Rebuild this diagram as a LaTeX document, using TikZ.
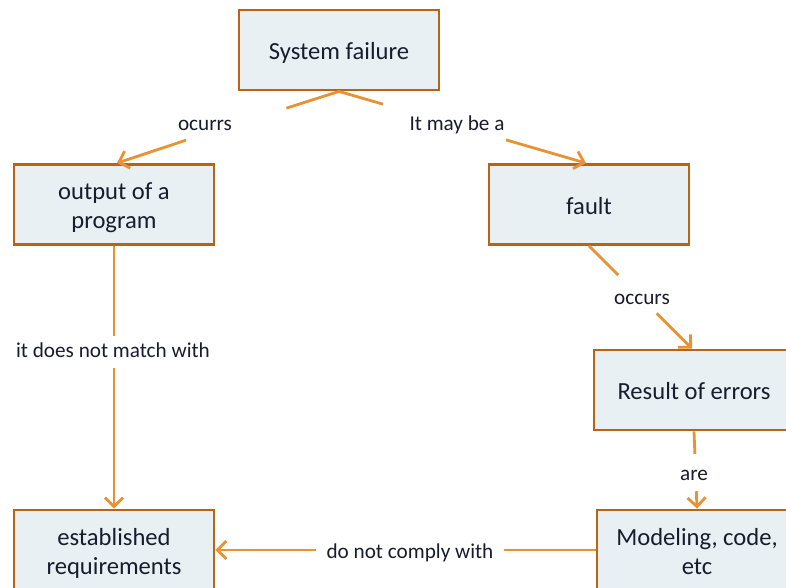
\documentclass[tikz,border=0pt]{standalone}
\usepackage{fontspec}
\setmainfont{Carlito}
\usetikzlibrary{arrows.meta,calc}
\definecolor{boxedge}{RGB}{184,100,18}
\definecolor{boxfill}{RGB}{232,240,243}
\definecolor{linkcol}{RGB}{232,146,52}
\definecolor{inkcol}{RGB}{25,28,45}
% fixed struts so every box sets its lines at the same height
\newcommand\hiline{\rule{0pt}{26pt}}
\newcommand\loline{\rule[-7pt]{0pt}{7pt}}
\tikzset{
  concept/.style={draw=boxedge, fill=boxfill, line width=2.8pt,
    minimum width=200pt, minimum height=80pt, inner sep=0pt,
    align=center, text=inkcol, font=\fontsize{24.6}{29}\selectfont},
  linkword/.style={text=inkcol, inner sep=2pt, fill=white,
    font=\fontsize{21.2}{25}\selectfont,
    execute at begin node={\rule[-4.5pt]{0pt}{20.5pt}}},
  link/.style={draw=linkcol, line width=2.8pt},
  tipped/.style={-{Straight Barb[length=9pt,width=18pt]}}
}
\begin{document}
\begin{tikzpicture}[x=1pt,y=-1pt]
  \useasboundingbox (0,0) rectangle (786,587);
  \clip (0,0) rectangle (786,587);

  % concepts
  \node[concept] (sf)    at (339,50)    {\hiline System failure\loline};
  \node[concept] (out)   at (114,204.5) {\hiline output of a\\program\loline};
  \node[concept] (fault) at (589,204.5) {\hiline fault\loline};
  \node[concept] (res)   at (694,390)   {\hiline Result of errors\loline};
  \node[concept] (mod)   at (697,550)   {\hiline Modeling, code,\\etc\loline};
  \node[concept] (est)   at (114,550)   {\hiline established\\requirements\loline};

  % system failure -> output of a program
  \draw[link] (sf.south) -- ($(sf.south)!0.234!(out.north)$);
  \draw[link,tipped] ($(sf.south)!0.68!(out.north)$) -- ([xshift=3pt]out.north);
  \node[linkword] (l1) at (205,125) {ocurrs};

  % system failure -> fault
  \draw[link] (sf.south) -- ($(sf.south)!0.178!([xshift=-3pt]fault.north)$);
  \draw[link,tipped] ($(sf.south)!0.676!([xshift=-3pt]fault.north)$) -- ([xshift=-3pt]fault.north);
  \node[linkword] (l2) at (457,124.5) {It may be a};

  % fault -> result of errors
  \draw[link] (fault.south) -- ($(fault.south)!0.284!([xshift=-2pt]res.north)$);
  \draw[link,tipped] ($(fault.south)!0.657!([xshift=-2pt]res.north)$) -- ([xshift=-2pt]res.north);
  \node[linkword] (l3) at (642,299) {occurs};

  % result of errors -> modeling
  \draw[link] (res.south) -- ($(res.south)!0.29!(mod.north)$);
  \draw[link,tipped] ($(res.south)!0.775!(mod.north)$) -- (mod.north);
  \node[linkword] (l4) at (694,475) {are};

  % output of a program -> established requirements
  \draw[link,tipped] (out.south) -- (est.north);
  \node[linkword, inner ysep=6pt] (l5) at (113,352) {it does not match with};

  % modeling -> established requirements
  \draw[link,tipped] (mod.west) -- (est.east);
  \node[linkword, inner xsep=11pt] (l6) at (410,552.5) {do not comply with};
\end{tikzpicture}
\end{document}
